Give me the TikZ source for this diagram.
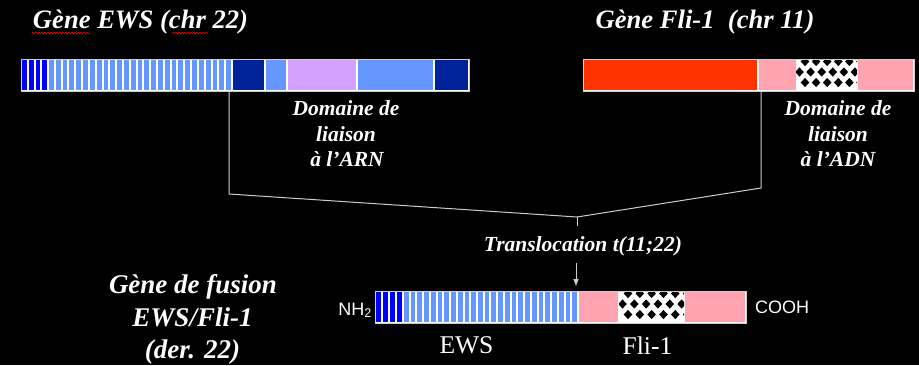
\documentclass[tikz,border=0pt]{standalone}
\usepackage{fontspec}
\setmainfont{Liberation Serif}
\newfontfamily\arialfont{Liberation Sans}
\usetikzlibrary{arrows.meta,decorations.pathmorphing}
\definecolor{dkstripe}{RGB}{0,0,255}
\definecolor{ltblue}{RGB}{102,150,255}
\definecolor{dkblue}{RGB}{0,35,153}
\definecolor{lavender}{RGB}{212,160,255}
\definecolor{flired}{RGB}{255,51,0}
\definecolor{flipink}{RGB}{255,163,177}
\definecolor{edgegray}{RGB}{205,205,205}
\newcommand\chkpattern[4]{%
  \begin{scope}
    \clip (#1,#2) rectangle (#3,#4);
    \fill[white] (#1,#2) rectangle (#3,#4);
    \foreach \r in {0,1,2}{
      \foreach \c in {0,...,5}{
        \pgfmathsetmacro\cx{#1+9+\c*(#3-#1)/5.5-mod(\r,2)*5.5}
        \pgfmathsetmacro\cy{#2+1.5+\r*10.5}
        \fill[black] (\cx-4.3,\cy) -- (\cx,\cy-4.6) -- (\cx+4.3,\cy) -- (\cx,\cy+4.6) -- cycle;
      }}
  \end{scope}}
\begin{document}
\begin{tikzpicture}[x=1pt,y=-1pt,
  title/.style={text=white,font=\fontsize{26.6}{30}\selectfont\bfseries\itshape,inner sep=0pt,anchor=base},
  dom/.style={text=white,font=\fontsize{21.5}{26}\selectfont\bfseries\itshape,inner sep=0pt,anchor=base},
  fuse/.style={text=white,font=\fontsize{27}{33}\selectfont\bfseries\itshape,inner sep=0pt,anchor=base},
  plain/.style={text=white,font=\fontsize{25.5}{30}\selectfont,inner sep=0pt,anchor=base},
  term/.style={text=white,font=\arialfont\fontsize{18}{20}\selectfont,inner sep=0pt},
  link/.style={draw=edgegray,line width=1pt},
  barframe/.style={draw=edgegray,line width=0.8pt,inner sep=0pt,anchor=north west},
  wavy/.style={draw=red,line width=0.6pt,decorate,decoration={snake,amplitude=0.8pt,segment length=3pt}}]
\fill[black] (0,0) rectangle (919,365);

% ---------- EWS gene bar ----------
\fill[white] (21,59) rectangle (469,90.5);
\foreach \i in {0,...,3} \fill[dkstripe] ({21+\i*6.75+1},60) rectangle ({21+(\i+1)*6.75-1},89.5);
\foreach \i in {0,...,26} \fill[ltblue] ({48+\i*6.815+1},60) rectangle ({48+(\i+1)*6.815-1},89.5);
\fill[dkblue] (233,60) rectangle (264,89.5);
\fill[ltblue] (266,60) rectangle (286,89.5);
\fill[lavender] (288,60) rectangle (356,89.5);
\fill[ltblue] (358,60) rectangle (433,89.5);
\fill[dkblue] (435,60) rectangle (468,89.5);
\node[barframe,minimum width=448pt,minimum height=31.5pt] (ews) at (21,59) {};

% ---------- Fli-1 gene bar ----------
\fill[white] (583,59) rectangle (914,90.5);
\fill[flired] (584,60) rectangle (757,89.5);
\fill[flipink] (759,60) rectangle (796,89.5);
\chkpattern{796}{60}{857}{89.5}
\fill[flipink] (858,60) rectangle (913,89.5);
\node[barframe,minimum width=331pt,minimum height=31.5pt] (fli) at (583,59) {};

% ---------- fusion bar ----------
\fill[white] (375,291) rectangle (746,322.5);
\foreach \i in {0,...,3} \fill[dkstripe] ({375+\i*7+1},292) rectangle ({375+(\i+1)*7-1},321.5);
\foreach \i in {0,...,25} \fill[ltblue] ({403+\i*6.73+1},292) rectangle ({403+(\i+1)*6.73-1},321.5);
\fill[flipink] (579,292) rectangle (618,321.5);
\chkpattern{619}{292}{684}{321.5}
\fill[flipink] (685,292) rectangle (745,321.5);
\node[barframe,minimum width=371pt,minimum height=31.5pt] (fus) at (375,291) {};

% ---------- connectors ----------
\coordinate (lcut) at (229,90.5);
\coordinate (lbend) at (229,194);
\coordinate (rcut) at (761,90.5);
\coordinate (rbend) at (761,188);
\coordinate (junc) at (577,217);
\coordinate (tick) at (577,226);
\coordinate (arrtop) at (576,263);
\coordinate (arrend) at (576,286);
\draw[link] (lcut) -- (lbend) -- (junc);
\draw[link] (rcut) -- (rbend) -- (junc);
\draw[link] (junc) -- (tick);
\draw[link,-{Triangle[width=5pt,length=7pt]}] (arrtop) -- (arrend);

% ---------- texts ----------
\node[title] (tews) at (140.5,28) {Gène EWS (chr 22)};
\draw[wavy] (32,33) -- (90,33);
\draw[wavy] (172,33) -- (208,33);
\node[title] (tfli) at (705,28) {Gène Fli-1\ \ (chr 11)};

\node[dom] (arn1) at (346,115) {Domaine de};
\node[dom] (arn2) at (346,141) {liaison};
\node[dom] (arn3) at (347,166.5) {à l’ARN};
\node[dom] (adn1) at (838,115) {Domaine de};
\node[dom] (adn2) at (838,141) {liaison};
\node[dom] (adn3) at (838,166.5) {à l’ADN};

\node[dom] (trans) at (583,251.5) {Translocation t(11;22)};

\node[fuse] (fus1) at (193,293.3) {Gène de fusion};
\node[fuse] (fus2) at (192.5,326.7) {EWS/Fli-1};
\node[fuse] (fus3) at (192.5,358) {(der. 22)};

\node[term,anchor=base east] (nh) at (372,315) {NH\textsubscript{2}};
\node[term,anchor=base west] (cooh) at (755,313.3) {COOH};
\node[plain] (lews) at (466.5,353) {EWS};
\node[plain] (lfli) at (647.5,354) {Fli-1};
\end{tikzpicture}
\end{document}
